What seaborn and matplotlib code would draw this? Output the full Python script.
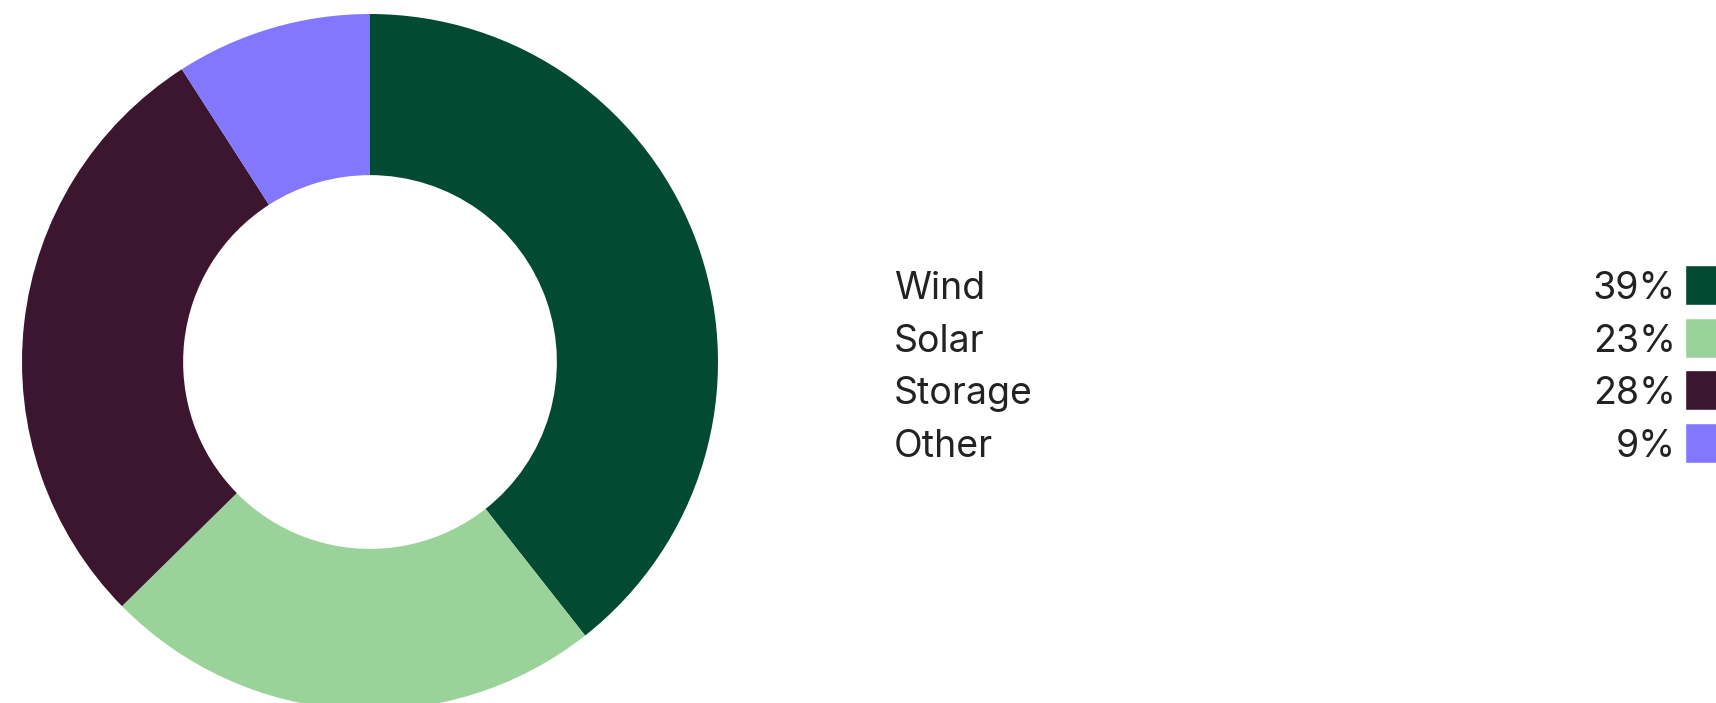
import matplotlib
matplotlib.use("Agg")
import matplotlib.pyplot as plt
import seaborn as sns

# data
labels = ["Wind", "Solar", "Storage", "Other"]
shares = [39, 23, 28, 9]
colors = ["#034a33", "#9ad39a", "#3c152e", "#8377ff"]

sns.set_theme(style="white")
plt.rcParams["font.family"] = ["Inter", "DejaVu Sans"]

W, H = 1716, 703
fig = plt.figure(figsize=(W / 100, H / 100), dpi=100)
fig.patch.set_facecolor("white")

# donut
cx, cy, r = 370, 362, 348
ax = fig.add_axes([(cx - r) / W, (H - cy - r) / H, 2 * r / W, 2 * r / H])
ax.pie(shares, colors=colors, startangle=90, counterclock=False,
       radius=1, wedgeprops=dict(width=0.463, linewidth=0))
ax.set_xlim(-1, 1)
ax.set_ylim(-1, 1)
ax.set_aspect("equal")
ax.axis("off")

# legend rows
top, bot = 259, 469
lx = 894
lax = fig.add_axes([lx / W, (H - bot) / H, (W - lx) / W, (bot - top) / H])
lax.set_xlim(0, W - lx)
lax.set_ylim(len(labels) - 0.5, -0.5)
lax.axis("off")
rows = list(range(len(labels)))
lax.barh(rows, [40] * len(rows), left=791, height=40 / 52.5, color=colors)
for i, (lab, v) in enumerate(zip(labels, shares)):
    lax.text(0, i, lab, ha="left", va="center_baseline", fontsize=27, color="#222222")
    lax.text(782, i, f"{v}%", ha="right", va="center_baseline", fontsize=27, color="#222222")

fig.savefig("out.png", dpi=100)
